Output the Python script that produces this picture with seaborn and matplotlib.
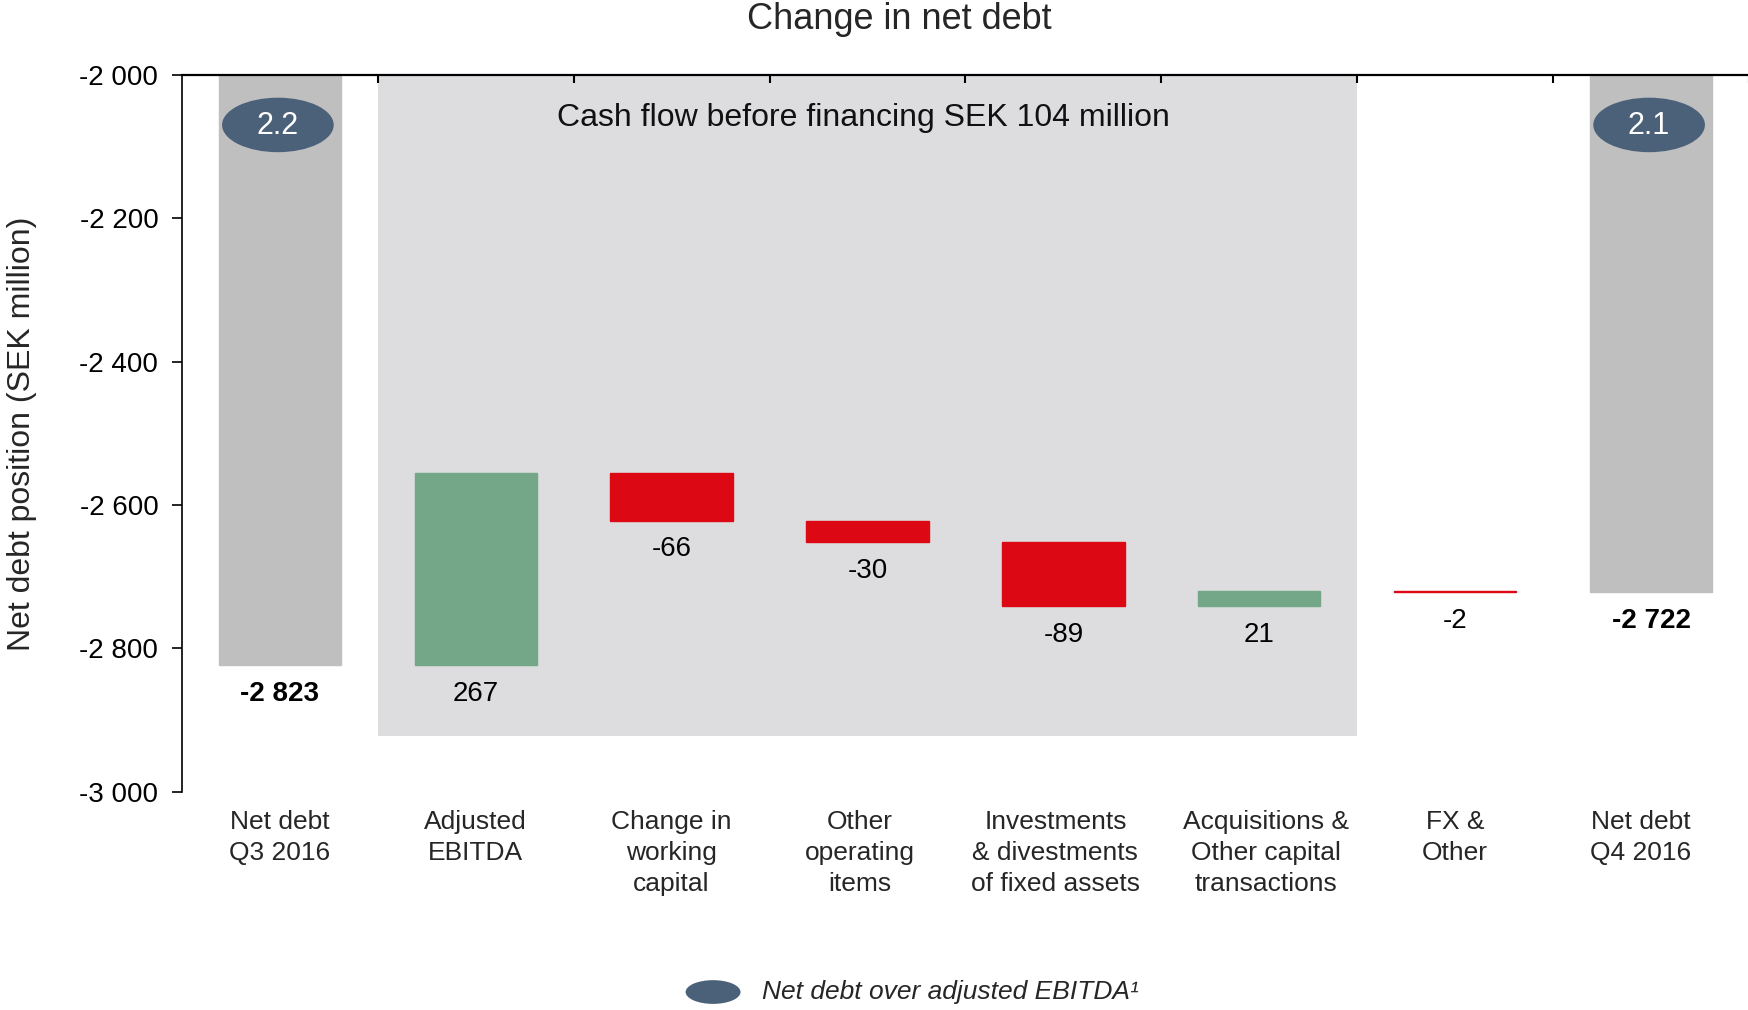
import matplotlib
matplotlib.use("Agg")
import matplotlib.pyplot as plt
import matplotlib.transforms as mtransforms
import seaborn as sns
import numpy as np
import pandas as pd
from matplotlib.patches import Ellipse, Rectangle
from matplotlib.ticker import FixedLocator, FuncFormatter

# ---------------- data ----------------
categories = [
    "Net debt\nQ3 2016",
    "Adjusted\nEBITDA",
    "Change in\nworking\ncapital",
    "Other\noperating\nitems",
    "Investments\n& divestments\nof fixed assets",
    "Acquisitions &\nOther capital\ntransactions",
    "FX &\nOther",
    "Net debt\nQ4 2016",
]
kinds = ["total", "delta", "delta", "delta", "delta", "delta", "delta", "total"]
values = [-2823, 267, -66, -30, -89, 21, -2, -2722]
ratio_positions = [0, 7]
ratio_labels = ["2.2", "2.1"]
bridge_span = [0.5, 5.5]
bridge_bottom = -2922
bridge_text = "Cash flow before financing SEK 104 million"
title = "Change in net debt"
ylabel = "Net debt position (SEK million)"
legend_label = "Net debt over adjusted EBITDA\u00b9"
y_ticks = [-3000, -2800, -2600, -2400, -2200, -2000]

# ---------------- colours ----------------
C_TOTAL = "#BFBFBF"
C_UP = "#74A787"
C_DOWN = "#DC0914"
C_SHADE = "#DDDDDF"
C_OVAL = "#4B6079"

# waterfall geometry from the values
bottoms, heights, colors, label_y = [], [], [], []
running = None
for k, v in zip(kinds, values):
    if k == "total":
        bottoms.append(v)
        heights.append(-v)
        colors.append(C_TOTAL)
        running = v
        label_y.append(v)
    else:
        lo = min(running, running + v)
        bottoms.append(lo)
        heights.append(abs(v))
        colors.append(C_UP if v > 0 else C_DOWN)
        label_y.append(lo)
        running = running + v

df = pd.DataFrame({"cat": categories, "height": heights})

sns.set_style("white")
plt.rcParams["font.family"] = ["Liberation Sans", "DejaVu Sans"]

fig = plt.figure(figsize=(17.49, 10.10), dpi=100)
ax = fig.add_axes([0.104, 0.216, 0.896, 0.710])

sns.barplot(data=df, x="cat", y="height", hue="cat", palette=colors,
            saturation=1, width=0.625, legend=False, ax=ax,
            linewidth=1.0, edgecolor=None)
for patch, b, c in zip(ax.patches, bottoms, colors):
    patch.set_y(b)
    patch.set_edgecolor(c)
    patch.set_zorder(2)

# shaded bridge area
ax.add_patch(Rectangle((bridge_span[0], bridge_bottom), bridge_span[1] - bridge_span[0],
                       -2000 - bridge_bottom, facecolor=C_SHADE, edgecolor="none", zorder=0))
ax.text(np.mean(bridge_span) - 0.02, -2061, bridge_text, ha="center", va="center",
        fontsize=23, color="#111111", zorder=3)

# ratio ovals
for pos, lab in zip(ratio_positions, ratio_labels):
    ax.add_patch(Ellipse((pos - 0.01, -2070), 0.57, 76, facecolor=C_OVAL,
                         edgecolor="none", zorder=4))
    ax.text(pos - 0.01, -2071, lab, ha="center", va="center", color="white",
            fontsize=22, zorder=5)

# value labels
def fmt(v):
    return f"{v:,.0f}".replace(",", " ")

for i, (k, v, ly) in enumerate(zip(kinds, values, label_y)):
    ax.text(i, ly - 40, fmt(v), ha="center", va="center", fontsize=20,
            fontweight="bold" if k == "total" else "normal", color="black", zorder=5)

# axes styling
ax.set_xlim(-0.5, 7.5)
ax.set_ylim(-3000, -2000)
ax.set_yticks(y_ticks)
ax.yaxis.set_major_formatter(FuncFormatter(lambda v, p: fmt(v)))
ax.tick_params(axis="y", which="major", left=True, direction="out", length=7,
               width=1.2, pad=10, labelsize=20, colors="black")
ax.set_xlabel("")
ax.set_ylabel("")
ax.set_xticks(range(len(categories)))
ax.set_xticklabels(categories, fontsize=19, linespacing=1.38)
ax.tick_params(axis="x", which="major", bottom=False, length=0, pad=13)
label_shift_px = [0, 0, 0, -8, -8, 7, 0, -10]
for lab, dx in zip(ax.get_xticklabels(), label_shift_px):
    lab.set_transform(lab.get_transform() +
                      mtransforms.ScaledTranslation(dx / 100, 0, fig.dpi_scale_trans))
ax.xaxis.set_minor_locator(FixedLocator(np.arange(0.5, 8.0, 1.0)))
ax.tick_params(axis="x", which="minor", top=True, bottom=False, direction="in",
               length=6, width=1.5, color="black")
for side in ["right", "bottom"]:
    ax.spines[side].set_visible(False)
ax.spines["left"].set_color("black")
ax.spines["left"].set_linewidth(1.2)
ax.spines["top"].set_color("black")
ax.spines["top"].set_linewidth(1.6)
ax.grid(False)

fig.text(0.514, 0.981, title, ha="center", va="center", fontsize=26)
fig.text(0.0125, 0.570, ylabel, ha="center", va="center", rotation=90, fontsize=23)

# legend
fig.patches.append(Ellipse((0.4077, 0.0178), 0.0314, 0.0235, transform=fig.transFigure,
                           facecolor=C_OVAL, edgecolor="none", figure=fig))
fig.text(0.4357, 0.0178, legend_label, ha="left", va="center", fontsize=19,
         style="italic")

fig.savefig("out.png", dpi=100)
